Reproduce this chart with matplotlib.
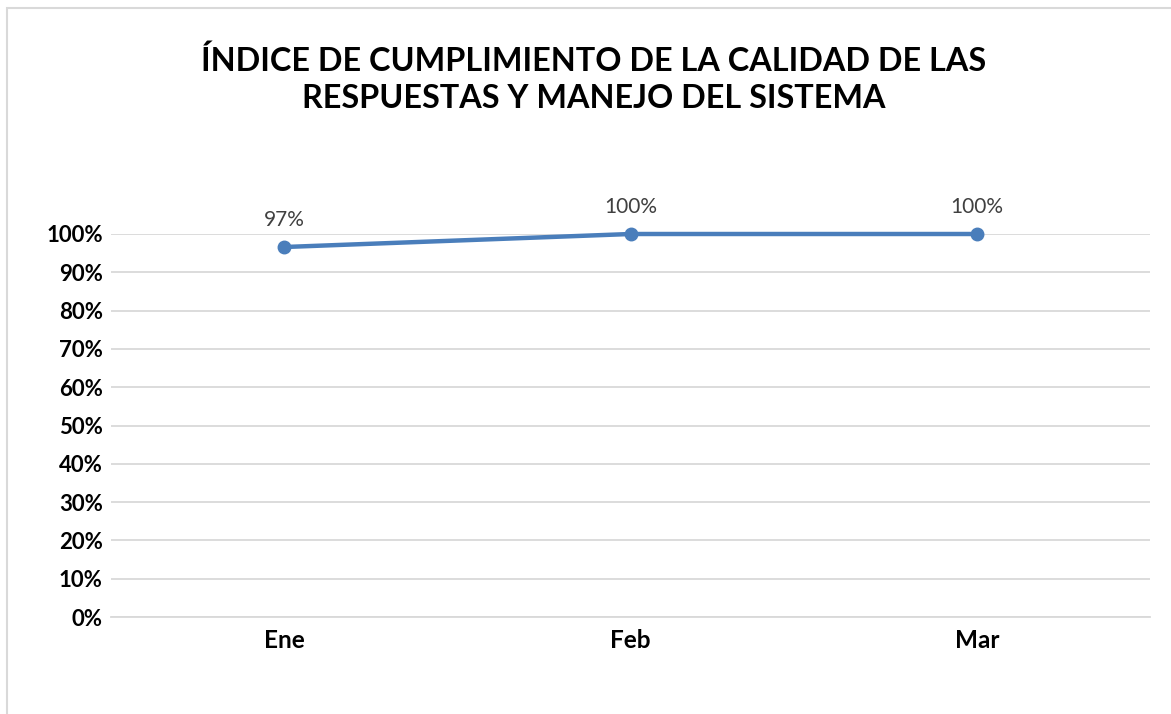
import matplotlib.pyplot as plt
from matplotlib.patches import Rectangle
from matplotlib.ticker import FuncFormatter

# data
meses = ["Ene", "Feb", "Mar"]
cumplimiento = [0.966, 1.0, 1.0]
etiquetas = ["97%", "100%", "100%"]
titulo = "ÍNDICE DE CUMPLIMIENTO DE LA CALIDAD DE LAS\nRESPUESTAS Y MANEJO DEL SISTEMA"

plt.rcParams['font.family'] = ['Lato', 'DejaVu Sans']

W, H = 1171, 714
fig = plt.figure(figsize=(W / 100, H / 100), dpi=100)

# chart frame (light gray border, cut off on right/bottom)
fig.patches.append(Rectangle((7 / W, -0.05), 1.1, 1 - 7.5 / H + 0.05, transform=fig.transFigure,
                             fill=False, edgecolor="#D9D9D9", linewidth=1.5))

ax = fig.add_axes([111 / W, 1 - 617 / H, (1150 - 111) / W, (617 - 234) / H])
x = list(range(len(meses)))
ax.plot(x, cumplimiento, color="#4A7EBB", linewidth=3.2, marker="o", markersize=9,
        clip_on=False, zorder=3)
for xi, v, t in zip(x, cumplimiento, etiquetas):
    ax.annotate(t, (xi, v), xytext=(0, 12), textcoords="offset points", ha="center",
                va="bottom", fontsize=15, color="#404040")

ax.set_xlim(-0.5, 2.5)
ax.set_ylim(0, 1)
ax.set_yticks([i / 10 for i in range(11)])
ax.yaxis.set_major_formatter(FuncFormatter(lambda v, p: f"{v * 100:.0f}%"))
ax.set_xticks(x)
ax.set_xticklabels(meses)
ax.grid(axis="y", color="#D9D9D9", linewidth=1.3)
ax.set_axisbelow(True)
for s in ["top", "right", "left"]:
    ax.spines[s].set_visible(False)
ax.spines["bottom"].set_color("#D9D9D9")
ax.spines["bottom"].set_linewidth(1.3)
ax.tick_params(length=0)
ax.tick_params(axis="y", pad=6)
ax.tick_params(axis="x", pad=9)
for lab in ax.get_yticklabels():
    lab.set_fontsize(16)
    lab.set_fontweight("bold")
for lab in ax.get_xticklabels():
    lab.set_fontsize(17.5)
    lab.set_fontweight("bold")

fig.text(594 / W, 1 - 79 / H, titulo, ha="center", va="center", fontsize=23.3,
         fontweight="bold", linespacing=1.32)

fig.savefig("out.png", dpi=100)
